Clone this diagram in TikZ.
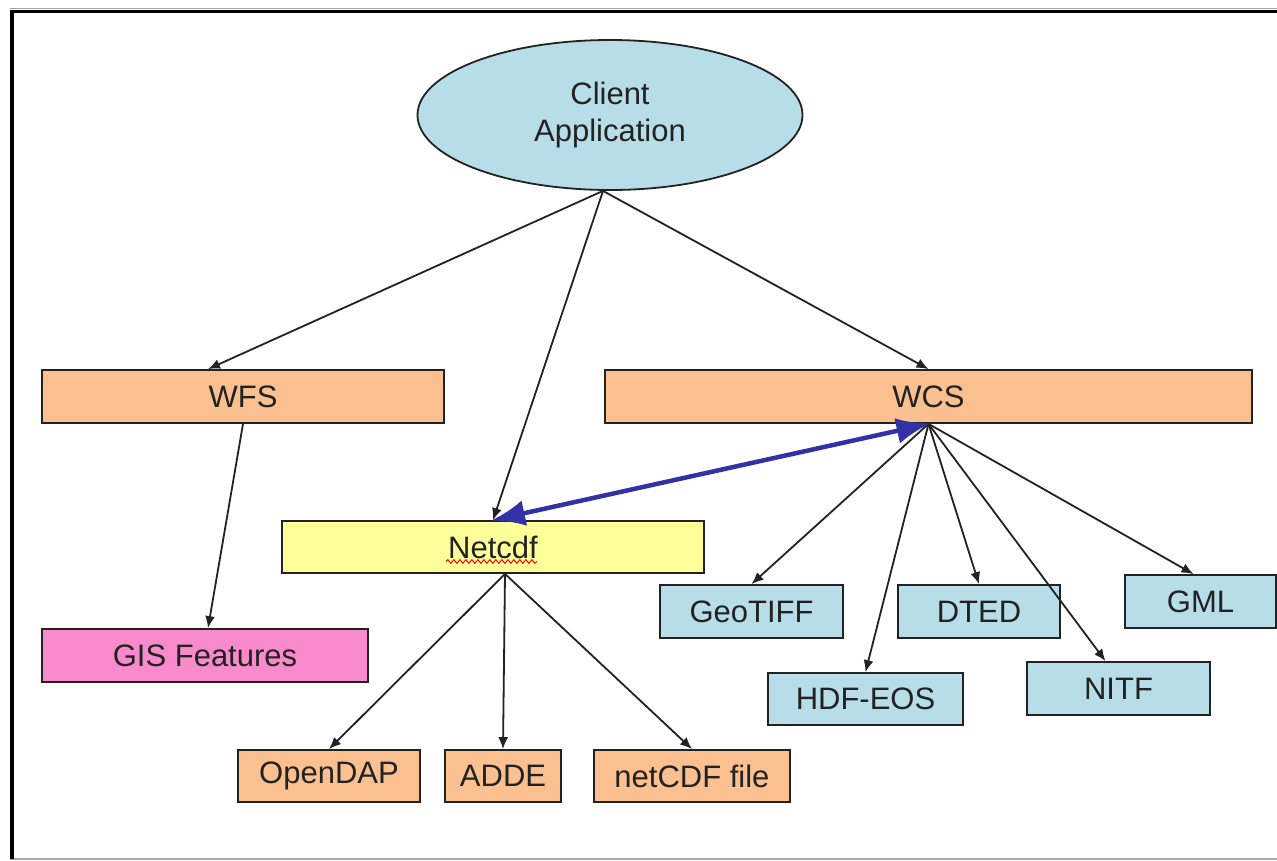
\documentclass[tikz,border=0pt]{standalone}
\usepackage{fontspec}
\setmainfont{Liberation Sans}
\usetikzlibrary{shapes.geometric,arrows.meta,decorations.pathmorphing,calc}
\definecolor{peach}{HTML}{FAC090}
\definecolor{skyfill}{HTML}{B7DEE8}
\definecolor{paleyellow}{HTML}{FFFF99}
\definecolor{pinkfill}{HTML}{F98ACB}
\definecolor{linkblue}{HTML}{3232A6}
\definecolor{inkgray}{HTML}{222222}
\tikzset{
  box/.style={draw=inkgray, line width=1.8pt, rectangle, inner sep=0pt,
    font=\fontsize{31}{36}\selectfont, text=inkgray},
  peachbox/.style={box, fill=peach},
  bluebox/.style={box, fill=skyfill},
  link/.style={draw=inkgray, line width=1.8pt, -{Latex[length=12pt,width=10pt]}},
  duplex/.style={draw=linkblue, line width=4.5pt,
    {Latex[length=34pt,width=26pt]}-{Latex[length=34pt,width=26pt]}, shorten <=-2pt, shorten >=-2pt}
}
\begin{document}
\begin{tikzpicture}[x=1pt,y=-1pt]
\useasboundingbox (0,0) rectangle (1277,860);
\fill[white] (0,0) rectangle (1277,860);

% outer frame
\draw[gray!70, line width=1pt] (10,8.5) -- (1277,8.5);
\draw[black, line width=3pt] (10,11.5) -- (1277,11.5);
\draw[gray!70, line width=2pt] (10,858.5) -- (1277,858.5);
\draw[black, line width=4pt] (12,10) -- (12,859);

% client
\node[ellipse, draw=inkgray, line width=1.8pt, fill=skyfill, minimum width=385pt,
  minimum height=150pt, inner sep=0pt, align=center,
  font=\fontsize{31}{37}\selectfont, text=inkgray] (client) at (610,115) {Client\\Application};

% services
\node[peachbox, minimum width=402pt, minimum height=53pt] (wfs) at (243,396.5) {WFS};
\node[peachbox, minimum width=647pt, minimum height=53pt] (wcs) at (928.5,396.5) {WCS};
\node[box, fill=paleyellow, minimum width=422pt, minimum height=52pt] (netcdf) at (493,547) {Netcdf};
\node[box, fill=pinkfill, minimum width=326pt, minimum height=53pt] (gis) at (205,655.5) {GIS Features};

% coverage formats
\node[bluebox, minimum width=183pt, minimum height=53pt] (geotiff) at (751.5,611.5) {GeoTIFF};
\node[bluebox, minimum width=162pt, minimum height=53pt] (dted) at (979,611.5) {DTED};
\node[bluebox, minimum width=151pt, minimum height=53pt] (gml) at (1200.5,601.5) {GML};
\node[bluebox, minimum width=195pt, minimum height=52pt] (hdf) at (865.5,699) {HDF-EOS};
\node[bluebox, minimum width=183pt, minimum height=53pt] (nitf) at (1118.5,688.5) {NITF};

% netcdf sources
\node[peachbox, minimum width=182pt, minimum height=52pt] (opendap) at (329,776) {OpenDAP};
\node[peachbox, minimum width=116pt, minimum height=52pt] (adde) at (503,776) {ADDE};
\node[peachbox, minimum width=196pt, minimum height=52pt] (ncfile) at (692,776) {netCDF file};

% spell-check squiggle under Netcdf
\draw[red, line width=1pt, decorate, decoration={snake, segment length=6pt, amplitude=1.8pt}]
  ($(netcdf.center)+(-47,14.5)$) -- ($(netcdf.center)+(44,14.5)$);

% anchor points
\path (client.south) ++(-7,0) coordinate (cs);
\path (wfs.north) ++(-35,0) coordinate (wfsin);
\path (netcdf.south) ++(12,0) coordinate (ncout);
\path (nitf.north) ++(-13,0) coordinate (nitfin);
\path (gml.north) ++(-7,0) coordinate (gmlin);
\path (gis.north) ++(3,0) coordinate (gisin);

% connectors
\draw[link] (cs) -- (wfsin);
\draw[link] (cs) -- (netcdf.north);
\draw[link] (cs) -- (wcs.north);
\draw[link] (wfs.south) -- (gisin);

\draw[link] (wcs.south) -- (geotiff.north);
\draw[link] (wcs.south) -- (hdf.north);
\draw[link] (wcs.south) -- (dted.north);
\draw[link] (wcs.south) -- (nitfin);
\draw[link] (wcs.south) -- (gmlin);

\draw[link] (ncout) -- (opendap.north);
\draw[link] (ncout) -- (adde.north);
\draw[link] (ncout) -- (ncfile.north);

\draw[duplex] (netcdf.north) -- (wcs.south);
\end{tikzpicture}
\end{document}
